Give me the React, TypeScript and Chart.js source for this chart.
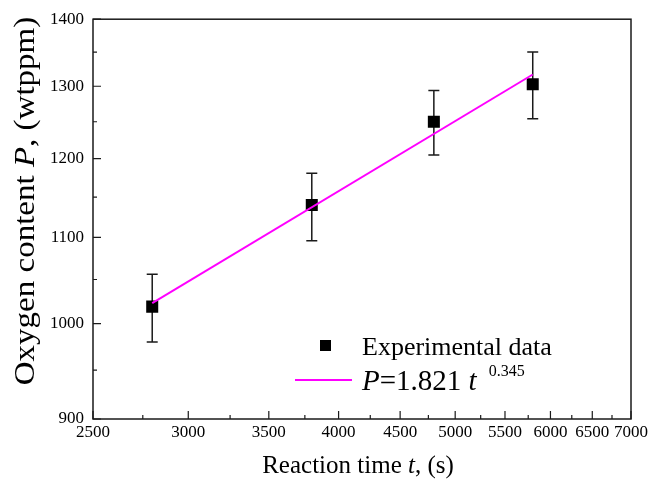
import React, { useEffect, useRef } from 'react';
import { Chart, registerables } from 'chart.js';
Chart.register(...registerables);

// ---- data ----
const timeS = [2800, 3800, 4800, 5800];
const oxygen = [1019, 1140, 1250, 1303];
const errUp = [37, 41, 44, 47];
const errDown = [39, 44, 45, 49];
const fitTime = [2800, 5800];
const fitOxygen = [1023, 1317];
const xMajorTicks = [2500, 3000, 3500, 4000, 4500, 5000, 5500, 6000, 6500, 7000];
const xMinorTicks = [2750, 3250, 3750, 4250, 4750, 5250, 5750, 6250, 6750];
const yMajorTicks = [900, 1000, 1100, 1200, 1300, 1400];
const yMinorTicks = [950, 1050, 1150, 1250, 1350];
const legendPoints = 'Experimental data';
const fitCoef = '1.821';
const fitExp = '0.345';

const FONT = '"Liberation Serif", "Times New Roman", serif';
const INK = '#1a1a1a';

type Part = { t: string; italic?: boolean; size: number; dy?: number; dx?: number };

function drawParts(ctx: CanvasRenderingContext2D, parts: Part[], x: number, y: number, align: 'left' | 'center') {
  let total = 0;
  const widths = parts.map((p) => {
    ctx.font = `${p.italic ? 'italic ' : ''}${p.size}px ${FONT}`;
    const w = ctx.measureText(p.t).width + (p.dx || 0);
    total += w;
    return w;
  });
  let cx = align === 'center' ? x - total / 2 : x;
  ctx.textBaseline = 'alphabetic';
  ctx.textAlign = 'left';
  parts.forEach((p, i) => {
    ctx.font = `${p.italic ? 'italic ' : ''}${p.size}px ${FONT}`;
    ctx.fillText(p.t, cx + (p.dx || 0), y + (p.dy || 0));
    cx += widths[i];
  });
}

const decorPlugin = {
  id: 'decor',
  beforeDatasetsDraw(chart: any) {
    const ctx: CanvasRenderingContext2D = chart.ctx;
    const xs = chart.scales.x;
    const ys = chart.scales.y;
    ctx.save();
    ctx.strokeStyle = INK;
    ctx.lineWidth = 1.5;
    for (let i = 0; i < timeS.length; i++) {
      const px = xs.getPixelForValue(timeS[i]);
      const top = ys.getPixelForValue(oxygen[i] + errUp[i]);
      const bot = ys.getPixelForValue(oxygen[i] - errDown[i]);
      ctx.beginPath();
      ctx.moveTo(px, top);
      ctx.lineTo(px, bot);
      ctx.moveTo(px - 5.5, top);
      ctx.lineTo(px + 5.5, top);
      ctx.moveTo(px - 5.5, bot);
      ctx.lineTo(px + 5.5, bot);
      ctx.stroke();
    }
    ctx.restore();
  },
  afterDraw(chart: any) {
    const ctx: CanvasRenderingContext2D = chart.ctx;
    const { left, right, top, bottom } = chart.chartArea;
    const xs = chart.scales.x;
    const ys = chart.scales.y;
    ctx.save();
    ctx.strokeStyle = INK;
    ctx.lineWidth = 1.5;
    ctx.strokeRect(left, top, right - left, bottom - top);
    ctx.lineWidth = 1.2;
    ctx.beginPath();
    xMajorTicks.forEach((v) => {
      const p = xs.getPixelForValue(v);
      ctx.moveTo(p, bottom);
      ctx.lineTo(p, bottom - 8);
    });
    xMinorTicks.forEach((v) => {
      const p = xs.getPixelForValue(v);
      ctx.moveTo(p, bottom);
      ctx.lineTo(p, bottom - 4);
    });
    yMajorTicks.forEach((v) => {
      const p = ys.getPixelForValue(v);
      ctx.moveTo(left, p);
      ctx.lineTo(left + 8, p);
    });
    yMinorTicks.forEach((v) => {
      const p = ys.getPixelForValue(v);
      ctx.moveTo(left, p);
      ctx.lineTo(left + 4, p);
    });
    ctx.stroke();

    ctx.fillStyle = '#000';
    // x title
    drawParts(ctx, [
      { t: 'Reaction time ', size: 25 },
      { t: 't', size: 25, italic: true },
      { t: ', (s)', size: 25 },
    ], 358, 473, 'center');
    // y title
    ctx.save();
    ctx.translate(34, 201);
    ctx.rotate(-Math.PI / 2);
    ctx.scale(1.1, 1);
    drawParts(ctx, [
      { t: 'Oxygen content ', size: 30 },
      { t: 'P', size: 30, italic: true },
      { t: ', (wtppm)', size: 30 },
    ], 0, 0, 'center');
    ctx.restore();

    // legend
    ctx.fillStyle = '#000';
    ctx.fillRect(320, 340, 11, 11);
    drawParts(ctx, [{ t: legendPoints, size: 26 }], 362, 355, 'left');
    ctx.strokeStyle = '#ff00ff';
    ctx.lineWidth = 2;
    ctx.beginPath();
    ctx.moveTo(295, 380);
    ctx.lineTo(352, 380);
    ctx.stroke();
    ctx.fillStyle = '#000';
    drawParts(ctx, [
      { t: 'P', size: 29, italic: true },
      { t: '=' + fitCoef + ' ', size: 29 },
      { t: 't', size: 29, italic: true },
      { t: fitExp, size: 16, dy: -14, dx: 12 },
    ], 362, 390, 'left');
    ctx.restore();
  },
};

export default function App() {
  const ref = useRef<HTMLCanvasElement | null>(null);
  useEffect(() => {
    document.body.style.margin = '0';
    const canvas = ref.current;
    if (!canvas) return;
    const chart = new Chart(canvas, {
      type: 'scatter',
      data: {
        datasets: [
          {
            type: 'line',
            label: 'fit',
            data: fitTime.map((t, i) => ({ x: t, y: fitOxygen[i] })),
            borderColor: '#ff00ff',
            borderWidth: 2,
            pointRadius: 0,
            fill: false,
          } as any,
          {
            label: legendPoints,
            data: timeS.map((t, i) => ({ x: t, y: oxygen[i] })),
            pointStyle: 'rect',
            pointRadius: 8.5,
            backgroundColor: '#000',
            borderColor: '#000',
            borderWidth: 0,
          },
        ],
      },
      options: {
        responsive: false,
        animation: false,
        layout: { padding: { left: 0, right: 18, top: 18, bottom: 0 } },
        plugins: { legend: { display: false }, tooltip: { enabled: false } },
        scales: {
          x: {
            type: 'logarithmic',
            min: 2500,
            max: 7000,
            grid: { display: false, drawTicks: false },
            border: { display: false },
            afterBuildTicks: (s: any) => {
              s.ticks = xMajorTicks.map((v) => ({ value: v }));
            },
            afterFit: (s: any) => {
              s.height = 62;
            },
            ticks: {
              autoSkip: false,
              maxRotation: 0,
              padding: 3,
              color: '#000',
              font: { family: FONT, size: 17 },
              callback: (v: any) => String(v),
            },
          },
          y: {
            type: 'logarithmic',
            min: 900,
            max: 1400,
            grid: { display: false, drawTicks: false },
            border: { display: false },
            afterBuildTicks: (s: any) => {
              s.ticks = yMajorTicks.map((v) => ({ value: v }));
            },
            afterFit: (s: any) => {
              s.width = 93;
            },
            ticks: {
              autoSkip: false,
              padding: 9,
              color: '#000',
              font: { family: FONT, size: 17 },
              callback: (v: any) => String(v),
            },
          },
        },
      },
      plugins: [decorPlugin],
    });
    return () => chart.destroy();
  }, []);
  return (
    <div style={{ width: 651, height: 481, background: '#fff' }}>
      <canvas ref={ref} width={651} height={481} />
    </div>
  );
}
